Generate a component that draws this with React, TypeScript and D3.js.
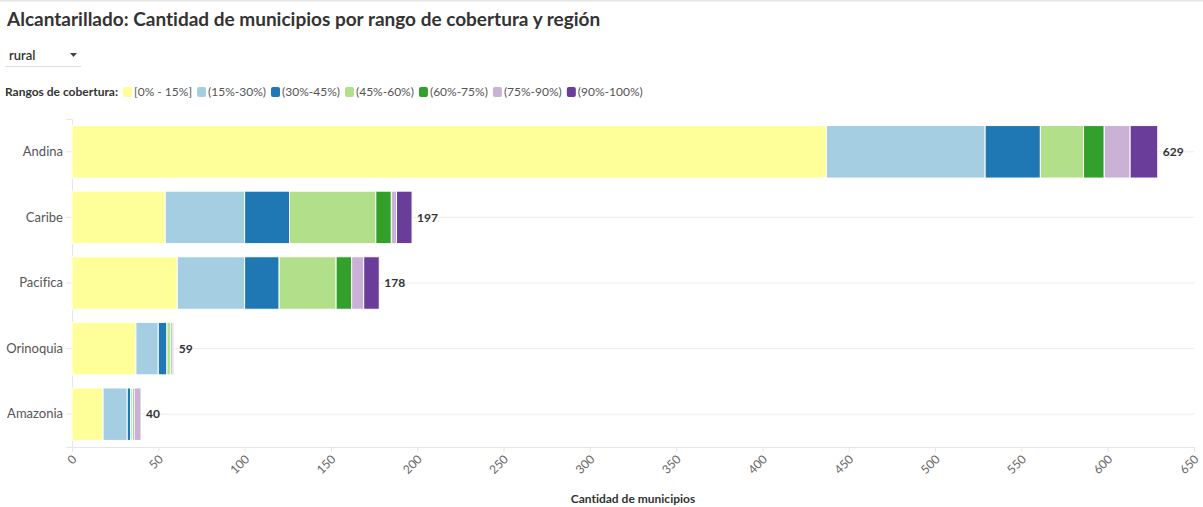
import React, { useEffect, useRef } from "react";
import * as d3 from "d3";

const regions = ["Andina", "Caribe", "Pacifica", "Orinoquia", "Amazonia"];
const ranges = ["[0% - 15%]", "(15%-30%)", "(30%-45%)", "(45%-60%)", "(60%-75%)", "(75%-90%)", "(90%-100%)"];
const colors = ["#ffff99", "#a6cee3", "#1f78b4", "#b2df8a", "#33a02c", "#cab2d6", "#6a3d9a"];
// values per region, one entry per coverage range
const andina = [437, 92, 32, 25, 12, 15, 16];
const caribe = [54, 46, 26, 50, 9, 3, 9];
const pacifica = [61, 39, 20, 33, 9, 7, 9];
const orinoquia = [37, 13, 5, 2, 1, 1, 0];
const amazonia = [18, 14, 2, 1, 1, 4, 0];
const xTicks = [0, 50, 100, 150, 200, 250, 300, 350, 400, 450, 500, 550, 600, 650];

const title = "Alcantarillado: Cantidad de municipios por rango de cobertura y región";
const FONT = "'Source Sans Pro', Lato, 'Noto Sans', sans-serif";

export default function App() {
  const ref = useRef<SVGSVGElement>(null);
  useEffect(() => {
    const svg = d3.select(ref.current);
    svg.selectAll("*").remove();
    svg.style("font-variant-ligatures", "none");
    const W = 1203;
    const m = { left: 72, right: 1194, top: 119, bottom: 447 };
    const series = [andina, caribe, pacifica, orinoquia, amazonia];
    const rows = regions.map((r, i) => {
      const o: any = { region: r };
      ranges.forEach((k, j) => (o[k] = series[i][j]));
      o.total = d3.sum(series[i]);
      return o;
    });

    svg.append("rect").attr("x", 0).attr("y", 0).attr("width", W).attr("height", 1.5).attr("fill", "#e6e6e6");

    svg.append("text").attr("x", 7).attr("y", 26).text(title)
      .attr("font-family", FONT).attr("font-size", 19).attr("font-weight", 700).attr("fill", "#333");

    // dropdown
    svg.append("text").attr("x", 9).attr("y", 60).text("rural")
      .attr("font-family", FONT).attr("font-size", 13).attr("font-weight", 600).attr("fill", "#333");
    svg.append("path").attr("d", "M70,53 L77,53 L73.5,57 Z").attr("fill", "#444");
    svg.append("rect").attr("x", 5).attr("y", 66).attr("width", 76).attr("height", 1).attr("fill", "#ddd");

    // legend
    const lg = svg.append("g").attr("font-family", FONT).attr("font-size", 12);
    const lt = lg.append("text").attr("x", 5).attr("y", 96).text("Rangos de cobertura:")
      .attr("font-weight", 700).attr("fill", "#333");
    let lx = 5 + (lt.node() as SVGTextElement).getComputedTextLength() + 5;
    ranges.forEach((k, i) => {
      lg.append("rect").attr("x", lx).attr("y", 87).attr("width", 9).attr("height", 10).attr("rx", 2)
        .attr("fill", colors[i]);
      const t = lg.append("text").attr("x", lx + 11).attr("y", 96).text(k).attr("fill", "#555");
      lx += 11 + (t.node() as SVGTextElement).getComputedTextLength() + 5;
    });

    const x = d3.scaleLinear().domain([0, 650]).range([m.left, m.right]);
    const y = d3.scaleBand().domain(regions).range([m.top, m.bottom]).paddingInner(0.2).paddingOuter(0.1);

    // gridlines at band centres
    svg.append("g").selectAll("line").data(regions).join("line")
      .attr("x1", m.left).attr("x2", m.right)
      .attr("y1", (d) => y(d)! + y.bandwidth() / 2).attr("y2", (d) => y(d)! + y.bandwidth() / 2)
      .attr("stroke", "#ececec").attr("stroke-width", 1);

    // y axis
    const ya = svg.append("g").attr("transform", `translate(${m.left},0)`)
      .call(d3.axisLeft(y).tickSize(6).tickPadding(3));
    ya.select(".domain").attr("stroke", "#e6e6e6");
    ya.selectAll(".tick line").attr("stroke", "#e6e6e6");
    ya.selectAll(".tick text").attr("font-family", FONT).attr("font-size", 13).attr("fill", "#555");

    // x axis
    const xa = svg.append("g").attr("transform", `translate(0,${m.bottom})`)
      .call(d3.axisBottom(x).tickValues(xTicks).tickSize(5).tickSizeOuter(0));
    xa.select(".domain").attr("stroke", "#e6e6e6");
    xa.selectAll(".tick line").attr("stroke", "#e6e6e6");
    xa.selectAll(".tick text").attr("font-family", FONT).attr("font-size", 12).attr("fill", "#666")
      .attr("text-anchor", "end").attr("dy", 0).attr("y", 0)
      .attr("transform", "translate(5,13) rotate(-45)");

    svg.append("text").attr("x", (m.left + m.right) / 2).attr("y", 503).attr("text-anchor", "middle")
      .text("Cantidad de municipios").attr("font-family", FONT).attr("font-size", 12)
      .attr("font-weight", 700).attr("fill", "#333");

    // stacked bars
    const stacked = d3.stack<any>().keys(ranges)(rows);
    svg.append("g").selectAll("g").data(stacked).join("g")
      .attr("fill", (_d, i) => colors[i])
      .selectAll("rect").data((d) => d).join("rect")
      .attr("x", (d) => x(d[0]))
      .attr("width", (d) => Math.max(0, x(d[1]) - x(d[0])))
      .attr("y", (d) => y(d.data.region)!)
      .attr("height", y.bandwidth())
      .attr("stroke", "#fff").attr("stroke-width", 1)
      .attr("display", (d) => (d[1] - d[0] > 0 ? null : "none"));

    // totals
    svg.append("g").selectAll("text").data(rows).join("text")
      .attr("x", (d) => x(d.total) + 5)
      .attr("y", (d) => y(d.region)! + y.bandwidth() / 2)
      .attr("dy", "0.35em")
      .text((d) => d.total)
      .attr("font-family", FONT).attr("font-size", 12).attr("font-weight", 700).attr("fill", "#333");
  }, []);
  return (
    <svg ref={ref} width={1203} height={507}
      style={{ position: "absolute", left: 0, top: 0, background: "#fff" }} />
  );
}
